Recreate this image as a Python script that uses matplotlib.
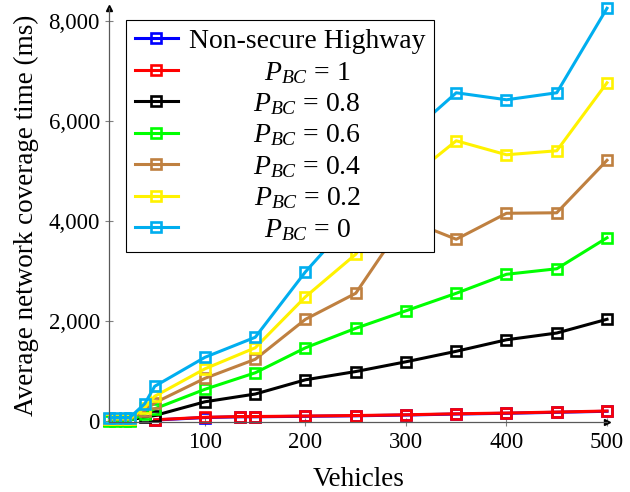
import matplotlib
matplotlib.use("Agg")
import matplotlib.pyplot as plt

plt.rcParams['font.family'] = ['Liberation Serif', 'DejaVu Serif']
plt.rcParams['mathtext.fontset'] = 'custom'
plt.rcParams['mathtext.rm'] = 'Liberation Serif'
plt.rcParams['mathtext.it'] = 'Liberation Serif:italic'

# ---- data ----
x_main = [5, 10, 20, 25, 40, 50, 100, 150, 200, 250, 300, 350, 400, 450, 500]
x_low = [50, 100, 135, 150, 200, 250, 300, 350, 400, 450, 500]

nonsecure = [15, 65, 80, 80, 90, 100, 115, 135, 150, 170, 190]
p_bc_1 = [20, 70, 85, 85, 95, 105, 120, 140, 155, 175, 195]
p_bc_08 = [20, 20, 20, 20, 70, 105, 380, 535, 820, 985, 1180, 1390, 1620, 1755, 2030]
p_bc_06 = [0, 0, 0, 0, 140, 240, 630, 960, 1460, 1850, 2200, 2550, 2930, 3040, 3660]
p_bc_04 = [30, 30, 30, 30, 200, 360, 850, 1230, 2030, 2550, 4030, 3630, 4150, 4160, 5210]
p_bc_02 = [40, 40, 40, 40, 260, 490, 1040, 1460, 2480, 3330, 4790, 5600, 5320, 5400, 6760]
p_bc_0 = [60, 60, 60, 60, 340, 690, 1270, 1670, 2980, 4100, 5670, 6560, 6420, 6560, 8250]

labels = ['Non-secure Highway', r'$P_{BC}$ = 1', r'$P_{BC}$ = 0.8', r'$P_{BC}$ = 0.6',
          r'$P_{BC}$ = 0.4', r'$P_{BC}$ = 0.2', r'$P_{BC}$ = 0']
colors = ['#0000FF', '#FF0000', '#000000', '#00FF00', '#BF8040', '#FFF200', '#00AEEF']
xs = [x_low, x_low, x_main, x_main, x_main, x_main, x_main]
ys = [nonsecure, p_bc_1, p_bc_08, p_bc_06, p_bc_04, p_bc_02, p_bc_0]

xticks = [100, 200, 300, 400, 500]
yticks = [0, 2000, 4000, 6000, 8000]
yticklabels = ['0', '2,000', '4,000', '6,000', '8,000']

TFS = 16.5   # tick labels
LFS = 19.5   # axis labels
GFS = 20     # legend

fig = plt.figure(figsize=(6.3, 4.92), dpi=100)
ax = fig.add_axes([0.1738, 0.1417, 0.7897, 0.8415])

for x, y, c, l in zip(xs, ys, colors, labels):
    ax.plot(x, y, color=c, lw=2.2, marker='s', ms=7.0, mew=1.9,
            mfc='none', mec=c, label=l, clip_on=False)

ax.set_xlim(5, 500)
ax.set_ylim(-30, 8250)
ax.set_xticks(xticks)
ax.set_xticklabels([str(v) for v in xticks], fontsize=TFS)
ax.set_yticks(yticks)
ax.set_yticklabels(yticklabels, fontsize=TFS)

for s in ['top', 'right']:
    ax.spines[s].set_visible(False)
for s in ['left', 'bottom']:
    ax.spines[s].set_color('0.35')
    ax.spines[s].set_linewidth(0.9)
ax.tick_params(direction='inout', length=6, width=0.8, color='0.5', pad=4)

ax.plot(1, 0, marker='>', color='black', ms=5, transform=ax.transAxes, clip_on=False)
ax.plot(0, 1, marker='^', color='black', ms=5, transform=ax.transAxes, clip_on=False)

ax.set_xlabel('Vehicles', fontsize=LFS, labelpad=10)
ax.set_ylabel('Average network coverage time (ms)', fontsize=LFS, labelpad=7)

leg = ax.legend(loc='upper left', bbox_to_anchor=(0.033, 0.972), borderaxespad=0,
                fontsize=GFS, fancybox=False, edgecolor='black', framealpha=1,
                handlelength=1.55, handletextpad=0.4, labelspacing=0.2,
                borderpad=0.32)
leg.get_frame().set_linewidth(0.8)

# center the legend texts within the text column
fig.canvas.draw()
r = fig.canvas.get_renderer()
texts = leg.get_texts()
widths = [t.get_window_extent(r).width for t in texts]
maxw = max(widths)
for t, w in zip(texts, widths):
    t.set_x((maxw - w) / 2.0)

fig.savefig('out.png', dpi=100)
